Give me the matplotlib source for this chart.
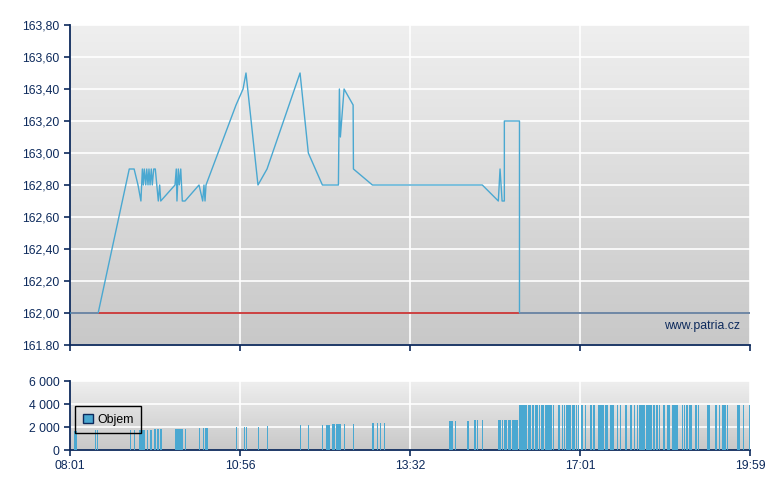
import numpy as np
import matplotlib.pyplot as plt
from matplotlib.colors import LinearSegmentedColormap
from matplotlib.patches import Patch

plt.rcParams['font.family'] = ['Liberation Sans', 'DejaVu Sans']

# casove osy: minuty od 08:01
time_labels = ["08:01", "10:56", "13:32", "17:01", "19:59"]

price_t = [0, 29, 61, 66, 70, 73, 74.5, 75.5, 76.5, 78, 79, 80.3, 81.3, 82.4, 83.7, 84.7,
           86.2, 87.8, 90.9, 92.3, 93.4, 108.1, 109.4, 110.1, 111.5, 112.5, 114, 115.6, 118.4,
           132.8, 136.6, 137.9, 139, 140, 170.9, 177.8, 180.5, 191.5, 199.8,
           230.1, 237.7, 250.6, 265.3, 266.2, 267.1, 270.5, 278.8, 279.1, 296.5,
           419.9, 439.6, 441.7, 444.2, 447, 447, 465.6, 465.6, 718]
price_v = [162.00, 162.00, 162.90, 162.90, 162.80, 162.70, 162.90, 162.80, 162.90, 162.80,
           162.90, 162.80, 162.90, 162.80, 162.90, 162.80, 162.90, 162.90, 162.70, 162.80,
           162.70, 162.80, 162.90, 162.70, 162.90, 162.80, 162.90, 162.70, 162.70,
           162.80, 162.70, 162.80, 162.70, 162.80, 163.30, 163.40, 163.50, 162.80, 162.90,
           163.50, 163.00, 162.80, 162.80, 163.40, 163.10, 163.40, 163.30, 162.90, 162.80,
           162.80, 162.70, 162.90, 162.70, 162.70, 163.20, 163.20, 162.00, 162.00]
prev_close = 162.00

vol_from = [4, 26, 28, 62, 66, 71, 79, 82, 86.8, 89.9, 92.6, 108.4, 118.4, 132.8, 137.2, 139,
            170.9, 178.7, 180.5, 191.5, 199.8, 230.1, 237.4, 250.2, 253.9, 259.4, 263.1, 270.4,
            278.7, 296.1, 300.7, 303.4, 307.1,
            379, 386, 401.1, 409.7, 413.4, 419.1, 439.2, 444.5, 446.2, 451.5, 456.1,
            465.2, 476.2, 481.2, 484.8, 489.8, 492.2, 497.1, 506.9, 513.1, 518, 520.4, 522.9,
            530.3, 535.2, 537.7, 541, 544.9, 550.5, 553.6, 558.8, 566.2, 571.4, 578.7, 581.9,
            587.1, 592.4, 596.5, 599.7, 601.8, 609.1, 616.4, 619.6, 622.7, 626.9, 631.1, 636.3,
            646.8, 648.8, 651, 654.1, 660.4, 663.6, 672.8, 681.4, 685.6, 688.7, 694, 704.4,
            710.7, 717]
vol_to = [7, 27, 29, 63, 67, 77.5, 80.3, 84.4, 88.8, 91.3, 94.7, 116, 119.4, 133.8, 138.2, 141.7,
          171.9, 179.6, 181.4, 192.4, 200.7, 231, 238.3, 251.2, 257.3, 262.2, 267.7, 271.3,
          279.6, 298, 301.6, 304.4, 308,
          384, 387.6, 403.5, 412.1, 414.6, 420.7, 443.2, 445.7, 450.3, 455.6, 463.9,
          475, 479.9, 483.6, 488.5, 491, 495.9, 505.7, 508.2, 515.5, 519.2, 521.7, 529,
          534, 536.4, 538.9, 543.1, 546.3, 552.6, 555.7, 565.1, 569.3, 575.6, 579.8, 582.9,
          589.2, 594.4, 597.6, 600.7, 608.1, 615.4, 618.5, 621.7, 623.8, 629, 634.2, 642.6,
          647.8, 649.9, 653.1, 657.3, 662.5, 664.6, 676.1, 683.5, 686.6, 692.9, 695, 707.5,
          711.7, 718]
vol_v = [1650, 1700, 1700, 1750, 1750, 1750, 1750, 1750, 1800, 1800, 1800, 1850, 1850, 1900, 1900, 1900,
         2000, 2000, 2000, 2000, 2070, 2170, 2170, 2170, 2170, 2260, 2260, 2260,
         2260, 2350, 2350, 2350, 2350,
         2530, 2530, 2530, 2610, 2610, 2610, 2610, 2610, 2610, 2610, 2610,
         3900, 3900, 3900, 3900, 3900, 3900, 3900, 3900, 3900, 3900, 3900, 3900,
         3900, 3900, 3900, 3900, 3900, 3900, 3900, 3900, 3900, 3900, 3900, 3900,
         3900, 3900, 3900, 3900, 3900, 3900, 3900, 3900, 3900, 3900, 3900, 3900,
         3900, 3900, 3900, 3900, 3900, 3900, 3900, 3900, 3900, 3900, 3900, 3900,
         3900, 3900]

price_ticks = [161.8, 162.0, 162.2, 162.4, 162.6, 162.8, 163.0, 163.2, 163.4, 163.6, 163.8]
price_tick_labels = ["161.80", "162,00", "162,20", "162,40", "162,60", "162,80",
                     "163,00", "163,20", "163,40", "163,60", "163,80"]
vol_ticks = [0, 2000, 4000, 6000]
vol_tick_labels = ["0", "2 000", "4 000", "6 000"]

navy = "#0d2a5c"
blue = "#4aa8d1"


def minutes(s):
    h, m = s.split(":")
    return int(h) * 60 + int(m) - (8 * 60 + 1)


tick_min = [minutes(s) for s in time_labels]
pos = np.arange(len(tick_min))
fwd = lambda m: np.interp(m, tick_min, pos)
inv = lambda u: np.interp(u, pos, tick_min)

fig = plt.figure(figsize=(7.8, 4.9), dpi=100)
ax = fig.add_axes([70 / 780, 145 / 490, 680 / 780, 320 / 490])
axv = fig.add_axes([70 / 780, 40 / 490, 680 / 780, 69 / 490])

grad = LinearSegmentedColormap.from_list("g", ["#c8c8c8", "#efefef"])
for a in (ax, axv):
    a.imshow(np.linspace(0, 1, 256).reshape(-1, 1), cmap=grad, origin="lower",
             extent=(0, 1, 0, 1), transform=a.transAxes, aspect="auto", zorder=-2)
    a.set_xscale("function", functions=(fwd, inv))
    a.set_xlim(tick_min[0], tick_min[-1])
    a.set_xticks(tick_min)
    a.grid(True, color="white", lw=1.2)
    for s in ("top", "right"):
        a.spines[s].set_visible(False)
    for s in ("left", "bottom"):
        a.spines[s].set_color(navy)
        a.spines[s].set_linewidth(1.3)
    a.tick_params(colors=navy, labelcolor=navy, labelsize=8.8, length=4, width=1.2)

ax.axhline(prev_close, color="#c83232", lw=1.3, zorder=2)
ax.plot(price_t, price_v, color=blue, lw=1.0, zorder=3)
ax.set_ylim(161.8, 163.8)
ax.set_yticks(price_ticks)
ax.set_yticklabels(price_tick_labels)
ax.set_xticklabels([])
ax.text(0.985, 0.06, "www.patria.cz", transform=ax.transAxes, ha="right", va="center",
        color=navy, fontsize=8.8)

widths = np.array(vol_to) - np.array(vol_from)
axv.bar(vol_from, vol_v, width=widths, align="edge", color=blue, edgecolor="none",
        linewidth=0, antialiased=False, zorder=3)
axv.set_ylim(0, 6000)
axv.set_yticks(vol_ticks)
axv.set_yticklabels(vol_tick_labels)
axv.set_xticklabels(time_labels)

leg = axv.legend(handles=[Patch(facecolor=blue, edgecolor=navy, label="Objem")],
                 loc="lower left", bbox_to_anchor=(0.008, 0.245), fontsize=8.8,
                 fancybox=False, edgecolor="black",
                 handlelength=0.8, handleheight=0.8, handletextpad=0.35,
                 borderpad=0.62, borderaxespad=0)
frame = leg.get_frame()
frame.set_facecolor("none")
frame.set_edgecolor("black")
frame.set_alpha(None)
frame.set_linewidth(1.0)

fig.savefig("out.png", dpi=100)
